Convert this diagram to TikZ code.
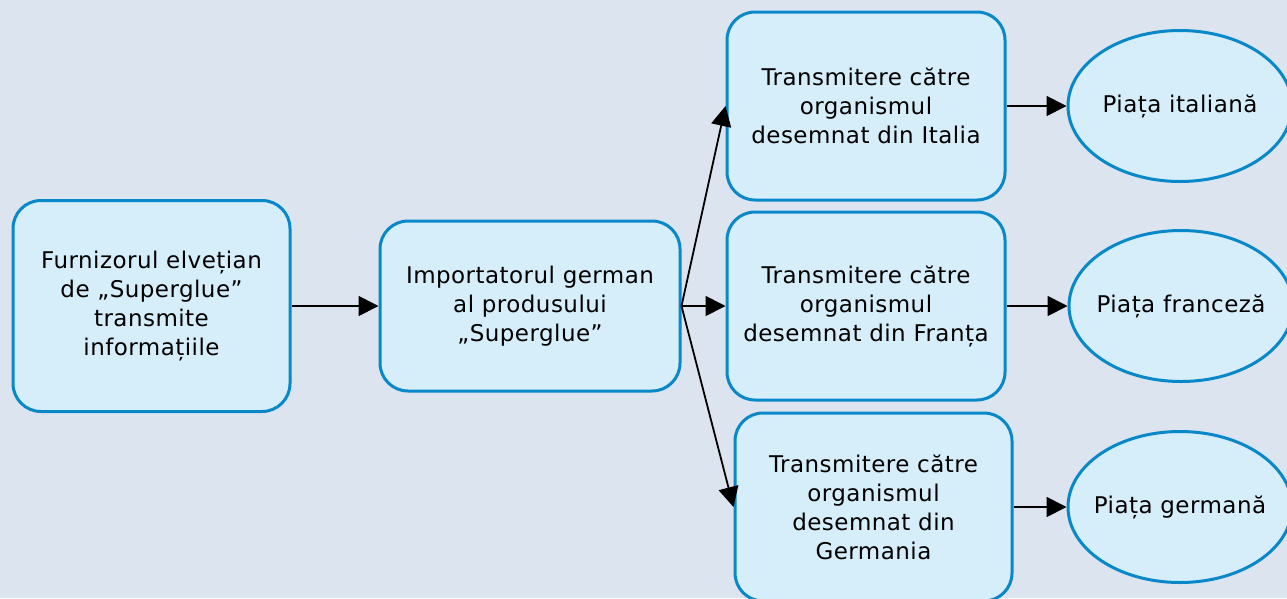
\documentclass[tikz,border=0pt]{standalone}
\usepackage{fontspec}
\setmainfont[LetterSpace=2]{DejaVu Sans}
\usetikzlibrary{shapes.geometric,arrows.meta}

\definecolor{pagebg}{RGB}{220,228,240}
\definecolor{boxfill}{RGB}{214,237,250}
\definecolor{boxline}{RGB}{8,136,200}

\tikzset{
  stage/.style={draw=boxline, fill=boxfill, line width=3pt, rounded corners=28pt,
    align=center, inner sep=0pt, font=\fontsize{23}{29}\selectfont},
  market/.style={ellipse, draw=boxline, fill=boxfill, line width=3pt,
    minimum width=224pt, minimum height=151pt, inner sep=0pt,
    font=\fontsize{23}{29}\selectfont},
  flow/.style={line width=1.8pt, -{Triangle[length=20pt,width=20pt]}}
}

\begin{document}
\begin{tikzpicture}[x=1pt,y=-1pt]
  % page background and frame
  \fill[pagebg] (0,0) rectangle (1287,598);
  \useasboundingbox (0,0) rectangle (1287,598);
  \clip (0,0) rectangle (1287,598);

  % process boxes
  \node[stage, minimum width=277pt, minimum height=211pt] (sup) at (151.5,306)
    {Furnizorul elvețian\\de „Superglue”\\transmite\\informațiile};
  \node[stage, minimum width=300pt, minimum height=170pt] (imp) at (530,306)
    {Importatorul german\\al produsului\\„Superglue”};
  \node[stage, minimum width=278pt, minimum height=188pt] (it) at (866,106)
    {Transmitere către\\organismul\\desemnat din Italia};
  \node[stage, minimum width=278pt, minimum height=188pt] (fr) at (866,306)
    {Transmitere către\\organismul\\desemnat din Franța};
  \node[stage, minimum width=277pt, minimum height=188pt] (de) at (873.5,507)
    {Transmitere către\\organismul\\desemnat din\\Germania};

  % target markets (fixed ellipse size, text centred inside)
  \node[market] (mit) at (1180,106) {\makebox[0pt]{Piața italiană}};
  \node[market] (mfr) at (1181,306) {\makebox[0pt]{Piața franceză}};
  \node[market] (mde) at (1180,507) {\makebox[0pt]{Piața germană}};

  % connectors
  \draw[flow] (sup.east) -- (imp.west);
  \draw[flow] (imp.east) -- (it.west);
  \draw[flow] (imp.east) -- (fr.west);
  \draw[flow] (imp.east) -- (de.west);
  \draw[flow] (it.east) -- (mit.west);
  \draw[flow] (fr.east) -- (mfr.west);
  \draw[flow] (de.east) -- (mde.west);
\end{tikzpicture}
\end{document}
